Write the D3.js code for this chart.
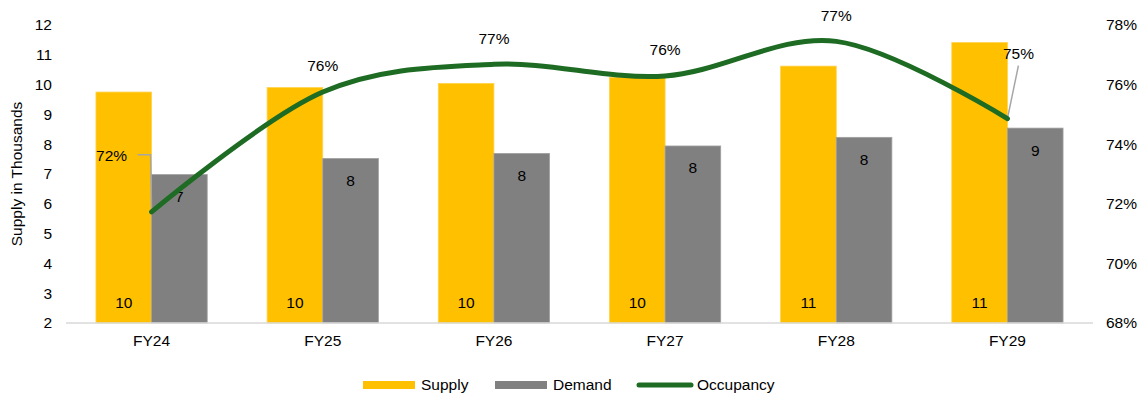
<!DOCTYPE html>
<html>
<head>
<meta charset="utf-8">
<script src="https://cdn.jsdelivr.net/npm/d3@7/dist/d3.min.js"></script>
<style>
  html, body { margin: 0; padding: 0; background: #fff; }
  svg { display: block; font-family: "Liberation Sans", Arial, sans-serif; }
</style>
</head>
<body>
<svg id="chart" width="1147" height="396"></svg>
<script>
// Fiscal years shown on the x axis
const categories = ["FY24", "FY25", "FY26", "FY27", "FY28", "FY29"];
// Supply and demand, in thousands
const supply = [9.75, 9.90, 10.04, 10.24, 10.62, 11.41];
const demand = [6.98, 7.52, 7.69, 7.94, 8.23, 8.54];
// Occupancy, percent
const occupancy = [71.73, 75.75, 76.68, 76.29, 77.45, 74.86];
// Axis ticks
const leftTicks = [2, 3, 4, 5, 6, 7, 8, 9, 10, 11, 12];
const rightTicks = [68, 70, 72, 74, 76, 78];

const COLORS = { supply: "#FFC000", demand: "#808080", line: "#1E6B24", text: "#000", axis: "#D9D9D9", leader: "#A6A6A6" };
const FONT = 15.5;
const FAMILY = "Liberation Sans, Arial, sans-serif";

const svg = d3.select("#chart");
const plot = { left: 66, right: 1093, top: 25, bottom: 323 };

const x = d3.scaleBand().domain(categories).range([plot.left, plot.right]).padding(0);
const groupFrac = 0.65;
const sub = d3.scaleBand().domain(["supply", "demand"])
  .range([x.bandwidth() * (1 - groupFrac) / 2, x.bandwidth() * (1 + groupFrac) / 2]).padding(0);
const yL = d3.scaleLinear().domain([2, 12]).range([plot.bottom, plot.top]);
const yR = d3.scaleLinear().domain([68, 78]).range([plot.bottom, plot.top]);

// Bars
const rows = categories.map((c, i) => ({ cat: c, supply: supply[i], demand: demand[i], occ: occupancy[i] }));
const g = svg.append("g");
["supply", "demand"].forEach(key => {
  g.selectAll("rect." + key).data(rows).join("rect")
    .attr("class", key)
    .attr("x", d => x(d.cat) + sub(key))
    .attr("y", d => yL(d[key]))
    .attr("width", sub.bandwidth())
    .attr("height", d => yL(2) - yL(d[key]))
    .attr("fill", COLORS[key])
    .attr("stroke", key === "demand" ? "#A0A0A0" : "#FFD24D")
    .attr("stroke-width", 0.8);
});

// Category axis line
svg.append("line")
  .attr("x1", plot.left).attr("x2", plot.right)
  .attr("y1", plot.bottom).attr("y2", plot.bottom)
  .attr("stroke", COLORS.axis).attr("stroke-width", 1.5);

// Left axis
const leftAxis = d3.axisLeft(yL).tickValues(leftTicks).tickSize(0).tickPadding(0).tickFormat(d3.format("d"));
const la = svg.append("g").attr("transform", "translate(52,0)").call(leftAxis);
la.select(".domain").remove();
la.selectAll("text").attr("font-size", FONT).attr("fill", COLORS.text).attr("font-family", FAMILY);

// Right axis
const rightAxis = d3.axisRight(yR).tickValues(rightTicks).tickSize(0).tickPadding(0).tickFormat(d => d + "%");
const ra = svg.append("g").attr("transform", "translate(1106,0)").call(rightAxis);
ra.select(".domain").remove();
ra.selectAll("text").attr("font-size", FONT).attr("fill", COLORS.text).attr("font-family", FAMILY);

// Bottom axis labels
const bottomAxis = d3.axisBottom(x).tickSize(0).tickPadding(12);
const ba = svg.append("g").attr("transform", `translate(0,${plot.bottom})`).call(bottomAxis);
ba.select(".domain").remove();
ba.selectAll("text").attr("font-size", FONT).attr("fill", COLORS.text).attr("font-family", FAMILY);

// Y axis title
svg.append("text")
  .attr("transform", "translate(22,174) rotate(-90)")
  .attr("text-anchor", "middle")
  .attr("font-size", FONT)
  .text("Supply in Thousands");

// Bar value labels: supply at the base, demand just inside the top
g.selectAll("text.slab").data(rows).join("text")
  .attr("class", "slab")
  .attr("x", d => x(d.cat) + sub("supply") + sub.bandwidth() / 2)
  .attr("y", yL(2) - 20)
  .attr("dy", "0.35em")
  .attr("text-anchor", "middle")
  .attr("font-size", FONT)
  .text(d => d3.format(".0f")(d.supply));

// Occupancy line (smoothed)
const px = d => x(d.cat) + x.bandwidth() / 2;
const line = d3.line().x(px).y(d => yR(d.occ)).curve(d3.curveCatmullRom.alpha(0));

g.selectAll("text.dlab").data(rows).join("text")
  .attr("class", "dlab")
  .attr("x", d => x(d.cat) + sub("demand") + sub.bandwidth() / 2)
  .attr("y", d => yL(d.demand) + 22)
  .attr("dy", "0.35em")
  .attr("text-anchor", "middle")
  .attr("font-size", FONT)
  .text(d => d3.format(".0f")(d.demand));

// Callouts for the first and last occupancy labels
const callouts = {
  FY24: { dx: -40, dy: -56, leader: d => [[d[0] - 14, d[1] - 57], [d[0] - 1, d[1] - 57], [d[0], d[1]]] },
  FY29: { dx: 11, dy: -65, leader: d => [[d[0] + 11, d[1] - 53], [d[0], d[1]]] }
};

rows.forEach(d => {
  const p = [px(d), yR(d.occ)];
  const c = callouts[d.cat];
  if (c) {
    svg.append("path")
      .attr("d", d3.line()(c.leader(p)))
      .attr("fill", "none").attr("stroke", COLORS.leader).attr("stroke-width", 1.5);
  }
});

svg.append("path")
  .datum(rows)
  .attr("d", line)
  .attr("fill", "none")
  .attr("stroke", COLORS.line)
  .attr("stroke-width", 5)
  .attr("stroke-linecap", "round");

rows.forEach(d => {
  const p = [px(d), yR(d.occ)];
  const c = callouts[d.cat] || { dx: 0, dy: -26 };
  svg.append("text")
    .attr("x", p[0] + c.dx).attr("y", p[1] + c.dy)
    .attr("dy", "0.35em")
    .attr("text-anchor", "middle")
    .attr("font-size", FONT)
    .text(Math.round(d.occ) + "%");
});

// Legend
const legend = svg.append("g");
legend.append("rect").attr("x", 363).attr("y", 381).attr("width", 52).attr("height", 8).attr("fill", COLORS.supply);
legend.append("text").attr("x", 421).attr("y", 385).attr("dy", "0.35em").attr("font-size", FONT).text("Supply");
legend.append("rect").attr("x", 495).attr("y", 381).attr("width", 52).attr("height", 8).attr("fill", COLORS.demand);
legend.append("text").attr("x", 553).attr("y", 385).attr("dy", "0.35em").attr("font-size", FONT).text("Demand");
legend.append("line").attr("x1", 639).attr("x2", 691).attr("y1", 385).attr("y2", 385)
  .attr("stroke", COLORS.line).attr("stroke-width", 5).attr("stroke-linecap", "round");
legend.append("text").attr("x", 697).attr("y", 385).attr("dy", "0.35em").attr("font-size", FONT).text("Occupancy");
</script>
</body>
</html>
